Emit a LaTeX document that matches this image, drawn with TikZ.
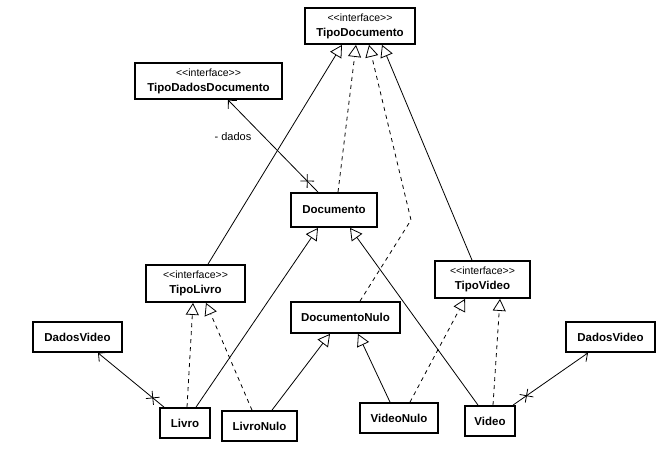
\documentclass[tikz,border=0pt]{standalone}
\usepackage{fontspec}
\setmainfont{Liberation Sans}
\usetikzlibrary{arrows.meta,shapes.misc}
\tikzstyle{classe} = [draw, line width=1.8pt, rectangle, inner sep=2pt,
    font=\fontsize{11.5}{13}\selectfont\bfseries, minimum height=30pt]
\tikzstyle{gen} = [line width=0.8pt, -{Triangle[open, length=12pt, width=13pt]}]
\tikzstyle{real} = [gen, dash pattern=on 4pt off 4pt]
\tikzstyle{assoc} = [line width=0.8pt, -{Straight Barb[length=6pt, width=12pt]}]
\tikzstyle{nonav} = [draw, cross out, sloped, minimum size=9pt, inner sep=0pt, line width=0.8pt]
\newcommand{\stereo}[1]{{\fontsize{10.5}{12}\selectfont\mdseries <{}<#1>{}>}}

\begin{document}
\begin{tikzpicture}[x=1pt, y=-1pt]
    \useasboundingbox (0,0) rectangle (669,458);
    \node [classe, minimum width=110pt, minimum height=36pt] (tipodoc) at (360,26) {\shortstack{\stereo{interface}\\[3.5pt] TipoDocumento}};
    \node [classe, minimum width=147pt, minimum height=36pt] (tipodados) at (208.5,81) {\shortstack{\stereo{interface}\\[3.5pt] TipoDadosDocumento}};
    \node [classe, minimum width=86pt, minimum height=34pt] (documento) at (334,210) {Documento};
    \node [classe, minimum width=99pt, minimum height=37pt] (tipolivro) at (195.5,283.5) {\shortstack{\stereo{interface}\\[3.5pt] TipoLivro}};
    \node [classe, minimum width=95pt, minimum height=37pt] (tipovideo) at (482.5,279.5) {\shortstack{\stereo{interface}\\[3.5pt] TipoVideo}};
    \node [classe, minimum width=109pt, minimum height=31pt] (docnulo) at (345.5,317.5) {DocumentoNulo};
    \node [classe, minimum width=89pt] (dadosvl) at (77.5,337) {DadosVideo};
    \node [classe, minimum width=89pt] (dadosvr) at (610.5,337) {DadosVideo};
    \node [classe, minimum width=50pt] (livro) at (185,423) {Livro};
    \node [classe, minimum width=75pt] (livronulo) at (259.5,426) {LivroNulo};
    \node [classe, minimum width=78pt] (videonulo) at (399,418) {VideoNulo};
    \node [classe, minimum width=50pt] (video) at (490,421) {Video};
    \coordinate (dobra) at (411,220);
    % heranca e realizacao
    \draw [gen] ([xshift=12.5pt]tipolivro.north) -- ([xshift=-18pt]tipodoc.south);
    \draw [gen] ([xshift=-10.5pt]tipovideo.north) -- ([xshift=22pt]tipodoc.south);
    \draw [real] ([xshift=4pt]documento.north) -- ([xshift=-4pt]tipodoc.south);
    \draw [real] ([xshift=14.5pt]docnulo.north) -- (dobra) -- ([xshift=9pt]tipodoc.south);
    \draw [gen] ([xshift=11pt]livro.north) -- ([xshift=-16pt]documento.south);
    \draw [gen] ([xshift=-12pt]video.north) -- ([xshift=16pt]documento.south);
    \draw [real] ([xshift=2pt]livro.north) -- ([xshift=-2.5pt]tipolivro.south);
    \draw [real] ([xshift=-7.5pt]livronulo.north) -- ([xshift=10.5pt]tipolivro.south);
    \draw [gen] ([xshift=12.5pt]livronulo.north) -- ([xshift=-15.5pt]docnulo.south);
    \draw [gen] ([xshift=-9pt]videonulo.north) -- ([xshift=12.5pt]docnulo.south);
    \draw [real] ([xshift=11pt]videonulo.north) -- ([xshift=-17.5pt]tipovideo.south);
    \draw [real] ([xshift=3pt]video.north) -- ([xshift=17.5pt]tipovideo.south);
    % associacoes
    \draw [assoc] ([xshift=-16pt]documento.north) -- node [nonav, pos=0.12] {}
        node [pos=0.6, left=9pt, font=\fontsize{11}{13}\selectfont] {- dados} ([xshift=19.5pt]tipodados.south);
    \draw [assoc] ([xshift=-21pt]livro.north) -- node [nonav, pos=0.17] {} ([xshift=20.5pt]dadosvl.south);
    \draw [assoc] ([xshift=23pt]video.north) -- node [nonav, pos=0.18] {} ([xshift=-22.5pt]dadosvr.south);
\end{tikzpicture}
\end{document}
